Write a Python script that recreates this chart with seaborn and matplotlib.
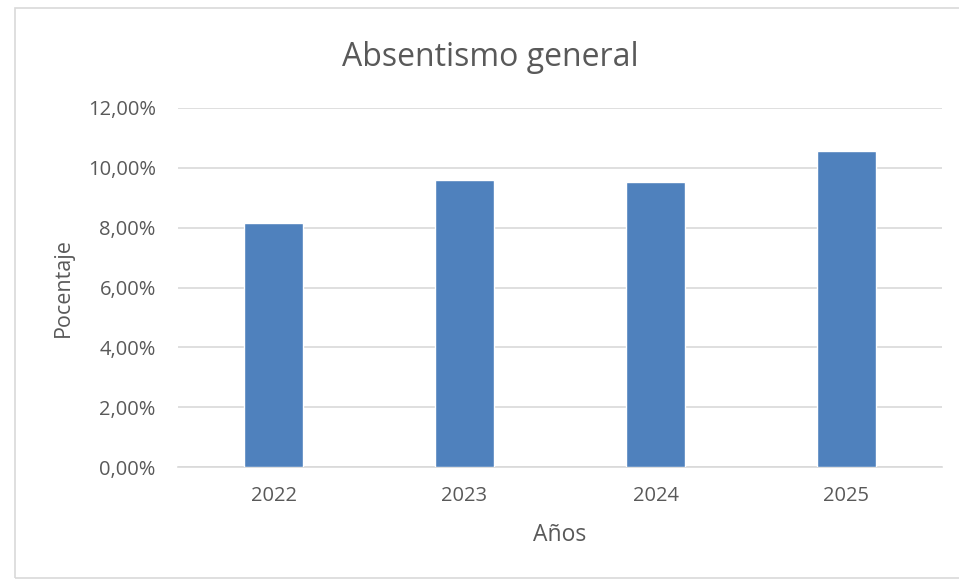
import matplotlib
matplotlib.use("Agg")
import matplotlib.pyplot as plt
import seaborn as sns
import pandas as pd
from matplotlib.ticker import FuncFormatter
from matplotlib.patches import Rectangle

years = ["2022", "2023", "2024", "2025"]
values = [8.15, 9.58, 9.53, 10.55]
yticks = [0, 2, 4, 6, 8, 10, 12]

sns.set_theme(style="white")
plt.rcParams['font.family'] = ['Open Sans', 'DejaVu Sans']

df = pd.DataFrame({"Años": years, "Pocentaje": values})

fig = plt.figure(figsize=(9.59, 5.81), dpi=100)
ax = fig.add_axes([178/959, 1-467/581, (942-178)/959, (467-108)/581])

sns.barplot(data=df, x="Años", y="Pocentaje", color="#4F81BD", width=0.31,
            saturation=1, ax=ax, zorder=3)

ax.set_ylim(0, 12)
ax.set_yticks(yticks)
ax.yaxis.set_major_formatter(FuncFormatter(lambda v, p: f"{v:.2f}%".replace(".", ",")))
ax.grid(axis="y", color="#D9D9D9", linewidth=1.2, zorder=0)
for s in ["top", "right", "left"]:
    ax.spines[s].set_visible(False)
ax.spines["bottom"].set_color("#D9D9D9")
ax.spines["bottom"].set_linewidth(1.2)
ax.tick_params(axis="both", length=0, labelsize=14.5, labelcolor="#595959")
ax.tick_params(axis="y", pad=16)
ax.tick_params(axis="x", pad=14)
ax.set_xlabel("Años", fontsize=16.5, color="#595959", labelpad=12)
ax.set_ylabel("Pocentaje", fontsize=15.5, color="#595959", labelpad=10)
fig.text(490/959, 1-57/581, "Absentismo general", ha="center", va="center",
         fontsize=23, color="#595959")

fig.patches.append(Rectangle((15/959, 3/581), 0.99, 1-11/581, transform=fig.transFigure,
                             fill=False, edgecolor="#D9D9D9", linewidth=1.2))

fig.savefig("out.png", dpi=100, facecolor="white")
